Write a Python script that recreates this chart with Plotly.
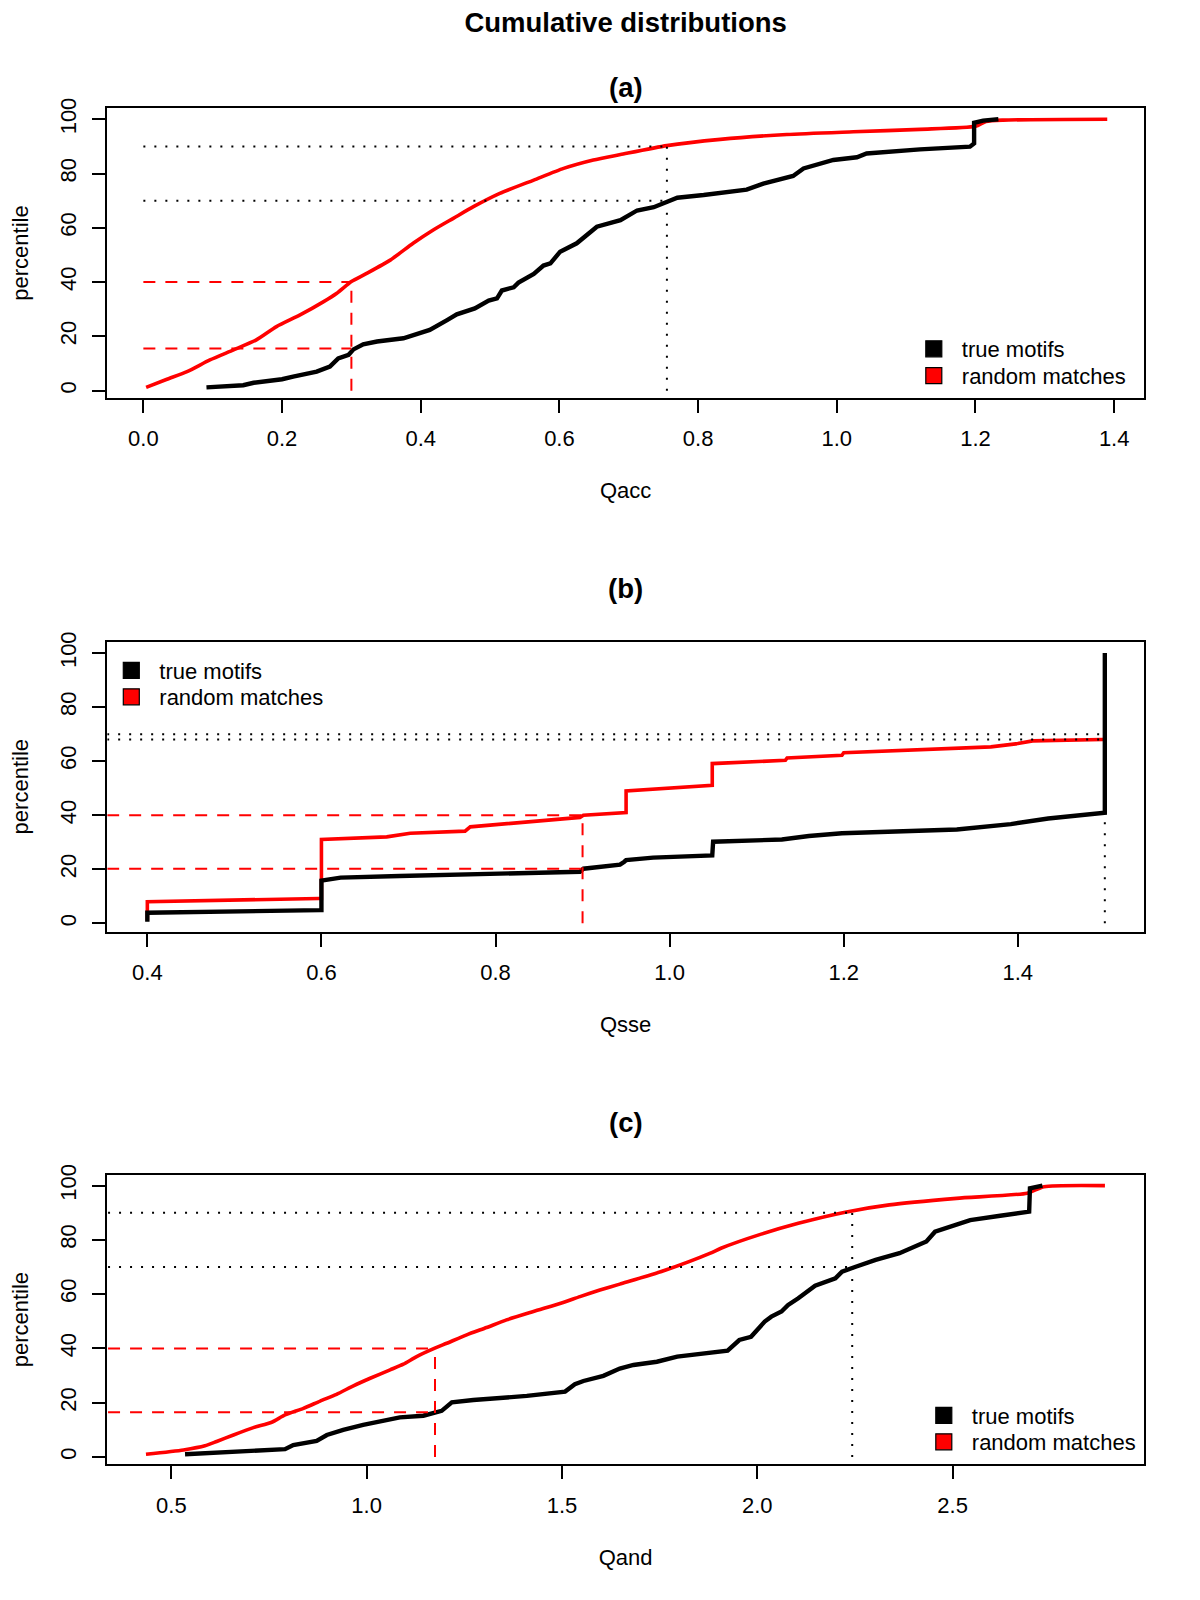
import plotly.graph_objects as go

# ---------------- data ----------------
# Panel (a): Qacc
A_RAND_X = [0.004, 0.034, 0.063, 0.096, 0.130, 0.163, 0.192, 0.226, 0.260, 0.279, 0.300, 0.322, 0.356, 0.389,
            0.418, 0.447, 0.476, 0.514, 0.563, 0.606, 0.649, 0.688, 0.755, 0.832, 0.928, 1.024, 1.120, 1.200,
            1.215, 1.240, 1.390]
A_RAND_Y = [1.2, 4.2, 7.0, 11.3, 15.0, 18.7, 23.6, 27.9, 32.8, 35.9, 40.2, 43.2, 48.1, 54.3,
            59.2, 63.5, 67.8, 72.7, 77.6, 81.9, 85.0, 87.0, 90.3, 92.6, 94.4, 95.4, 96.3, 97.4,
            99.2, 99.7, 100.0]
A_TRUE_X = [0.091, 0.144, 0.159, 0.200, 0.216, 0.250, 0.269, 0.281, 0.296, 0.303, 0.317, 0.337, 0.375, 0.413,
            0.438, 0.452, 0.478, 0.498, 0.510, 0.517, 0.534, 0.541, 0.563, 0.577, 0.587, 0.601, 0.625, 0.654,
            0.688, 0.712, 0.736, 0.755, 0.770, 0.808, 0.870, 0.894, 0.937, 0.952, 0.995, 1.029, 1.043, 1.120,
            1.192, 1.198, 1.198, 1.211, 1.233]
A_TRUE_Y = [1.2, 2.0, 2.9, 4.2, 5.2, 7.0, 8.9, 11.9, 13.2, 15.2, 17.1, 18.1, 19.3, 22.4,
            26.0, 28.1, 30.3, 33.2, 34.0, 36.9, 38.1, 39.8, 43.0, 46.1, 46.9, 51.2, 54.3, 60.4,
            62.8, 66.4, 67.6, 69.6, 71.1, 72.1, 74.1, 76.3, 79.1, 81.9, 85.0, 86.0, 87.4, 88.9,
            89.9, 91.1, 98.7, 99.5, 100.0]
A_DOT_Q, A_DOT_LEVELS = 0.755, [90, 70]
A_DASH_Q, A_DASH_LEVELS = 0.300, [40, 15.5]

# Panel (b): Qsse
B_RAND_X = [0.400, 0.400, 0.597, 0.600, 0.600, 0.675, 0.702, 0.765, 0.771, 0.824, 0.844, 0.897, 0.901, 0.943,
            0.950, 0.950, 1.049, 1.049, 1.133, 1.135, 1.198, 1.200, 1.369, 1.400, 1.417, 1.497, 1.500]
B_RAND_Y = [1.0, 8.0, 9.2, 9.2, 31.0, 32.0, 33.3, 34.1, 35.7, 37.2, 37.9, 39.2, 40.0, 40.8,
            41.0, 49.0, 51.1, 59.1, 60.3, 61.2, 62.2, 63.1, 65.3, 66.5, 67.5, 68.0, 68.0]
B_TRUE_X = [0.400, 0.400, 0.599, 0.600, 0.600, 0.622, 0.690, 0.767, 0.897, 0.901, 0.943, 0.948, 0.950, 0.981,
            1.049, 1.050, 1.129, 1.160, 1.198, 1.330, 1.392, 1.435, 1.497, 1.500, 1.500]
B_TRUE_Y = [0.6, 3.9, 4.9, 4.9, 15.8, 16.9, 17.5, 18.1, 19.1, 20.2, 21.7, 22.8, 23.4, 24.3,
            25.1, 30.2, 31.0, 32.3, 33.3, 34.7, 36.7, 38.8, 40.6, 40.9, 100.0]
B_DOT_Q, B_DOT_LEVELS = 1.500, [70, 68]
B_DASH_Q, B_DASH_LEVELS = 0.900, [40, 20.2]

# Panel (c): Qand
C_RAND_X = [0.435, 0.531, 0.586, 0.616, 0.659, 0.710, 0.757, 0.791, 0.838, 0.881, 0.923, 0.966, 1.009, 1.060,
            1.094, 1.128, 1.173, 1.205, 1.256, 1.307, 1.358, 1.427, 1.503, 1.546, 1.597, 1.648, 1.760, 1.880,
            1.907, 2.010, 2.105, 2.225, 2.338, 2.510, 2.691, 2.734, 2.890]
C_RAND_Y = [1.0, 2.6, 4.1, 5.7, 8.1, 10.8, 12.8, 15.5, 17.9, 20.6, 23.1, 26.2, 29.0, 32.1,
            34.2, 37.0, 40.0, 41.9, 45.0, 47.7, 50.5, 53.6, 56.9, 59.1, 61.5, 63.7, 68.6, 75.1,
            76.9, 82.1, 86.1, 90.2, 92.9, 95.3, 97.2, 99.6, 100.0]
C_TRUE_X = [0.535, 0.791, 0.812, 0.872, 0.898, 0.940, 0.991, 1.026, 1.043, 1.085, 1.145, 1.171, 1.192, 1.218,
            1.273, 1.410, 1.508, 1.533, 1.555, 1.606, 1.648, 1.683, 1.743, 1.795, 1.916, 1.924, 1.954, 1.984,
            2.019, 2.036, 2.062, 2.079, 2.105, 2.148, 2.200, 2.217, 2.252, 2.303, 2.364, 2.398, 2.433, 2.455,
            2.493, 2.545, 2.622, 2.691, 2.696, 2.698, 2.730]
C_TRUE_Y = [1.0, 2.9, 4.4, 5.9, 8.1, 10.0, 11.8, 12.8, 13.6, 14.6, 15.2, 16.1, 17.0, 20.1,
            21.0, 22.5, 24.1, 26.8, 28.0, 29.9, 32.6, 33.9, 35.1, 37.0, 38.8, 39.2, 43.1, 44.3,
            49.9, 51.7, 53.6, 56.0, 58.5, 63.1, 65.8, 68.3, 70.1, 72.6, 75.1, 77.1, 79.4, 83.0,
            84.9, 87.3, 88.9, 90.0, 90.4, 99.0, 100.0]
C_DOT_Q, C_DOT_LEVELS = 2.243, [90, 70]
C_DASH_Q, C_DASH_LEVELS = 1.175, [40, 16.5]

# ticks / labels
Y_TICKS = [0, 20, 40, 60, 80, 100]
A_XTICKS = [0.0, 0.2, 0.4, 0.6, 0.8, 1.0, 1.2, 1.4]
B_XTICKS = [0.4, 0.6, 0.8, 1.0, 1.2, 1.4]
C_XTICKS = [0.5, 1.0, 1.5, 2.0, 2.5]
A_XLABELS = ["0.0", "0.2", "0.4", "0.6", "0.8", "1.0", "1.2", "1.4"]
B_XLABELS = ["0.4", "0.6", "0.8", "1.0", "1.2", "1.4"]
C_XLABELS = ["0.5", "1.0", "1.5", "2.0", "2.5"]
X_TITLES = ["Qacc", "Qsse", "Qand"]
PANEL_TITLES = ["(a)", "(b)", "(c)"]
SERIES_NAMES = ["true motifs", "random matches"]
MAIN_TITLE = "Cumulative distributions"

# ---------------- layout geometry (pixels of the 1200x1600 page) ----------------
W, H = 1184, 1584   # page has the default 8px body margin
OFF = 8


def px(xp):
    return (xp - OFF) / W


def py(yp):
    return 1 - (yp - OFF) / H


FONT = "Liberation Sans, Arial, Helvetica, sans-serif"
RED = "#ff0000"
BLACK = "#000000"

panels = [
    dict(rx=A_RAND_X, ry=A_RAND_Y, tx=A_TRUE_X, ty=A_TRUE_Y, dq=A_DOT_Q, dl=A_DOT_LEVELS,
         sq=A_DASH_Q, sl=A_DASH_LEVELS, xt=A_XTICKS, xl=A_XLABELS, smooth=True,
         xr=[-0.052, 1.443], yr=[-2.6, 104.05], top=108.3, bot=397.7, title_y=87.8,
         leg_x=905.8, leg_y=[349.0, 375.8]),
    dict(rx=B_RAND_X, ry=B_RAND_Y, tx=B_TRUE_X, ty=B_TRUE_Y, dq=B_DOT_Q, dl=B_DOT_LEVELS,
         sq=B_DASH_Q, sl=B_DASH_LEVELS, xt=B_XTICKS, xl=B_XLABELS, smooth=False,
         xr=[0.354, 1.545], yr=[-3.1, 104.2], top=641.7, bot=931.7, title_y=588.8,
         leg_x=103.3, leg_y=[670.5, 697.0]),
    dict(rx=C_RAND_X, ry=C_RAND_Y, tx=C_TRUE_X, ty=C_TRUE_Y, dq=C_DOT_Q, dl=C_DOT_LEVELS,
         sq=C_DASH_Q, sl=C_DASH_LEVELS, xt=C_XTICKS, xl=C_XLABELS, smooth=True,
         xr=[0.336, 2.990], yr=[-2.7, 103.9], top=1175.0, bot=1464.3, title_y=1122.4,
         leg_x=915.8, leg_y=[1415.6, 1442.0]),
]

LEFT, RIGHT = 107.3, 1144.0
XDOM = [px(LEFT), px(RIGHT)]
XC = (XDOM[0] + XDOM[1]) / 2

fig = go.Figure()
layout = dict(
    width=W, height=H,
    margin=dict(l=0, r=0, t=0, b=0, pad=0, autoexpand=False),
    paper_bgcolor="white", plot_bgcolor="white",
    font=dict(family=FONT, size=22, color="black"),
    showlegend=True,
    title=dict(text="<b>%s</b>" % MAIN_TITLE, x=XC, xanchor="center",
               y=py(22.4), yanchor="middle", yref="paper", automargin=False,
               font=dict(family=FONT, size=27.5, color="black")),
    annotations=[],
)

leg_count = 0
for i, p in enumerate(panels):
    n = "" if i == 0 else str(i + 1)
    xa, ya = "x" + n, "y" + n

    red_line = dict(color=RED, width=3.6)
    if p["smooth"]:
        red_line.update(shape="spline", smoothing=0.6)
    # random matches (drawn first), then true motifs
    fig.add_trace(go.Scatter(x=p["rx"], y=p["ry"], mode="lines", xaxis=xa, yaxis=ya,
                             line=red_line, showlegend=False, hoverinfo="skip"))
    fig.add_trace(go.Scatter(x=p["tx"], y=p["ty"], mode="lines", xaxis=xa, yaxis=ya,
                             line=dict(color=BLACK, width=4.4), showlegend=False, hoverinfo="skip"))

    # dotted reference lines (black)
    dx, dy = [], []
    for lev in p["dl"]:
        dx += [0, p["dq"], None]
        dy += [lev, lev, None]
    dx += [p["dq"], p["dq"]]
    dy += [0, max(p["dl"])]
    fig.add_trace(go.Scatter(x=dx, y=dy, mode="lines", xaxis=xa, yaxis=ya,
                             line=dict(color=BLACK, width=2, dash="2px,9px"),
                             showlegend=False, hoverinfo="skip"))
    # dashed reference lines (red)
    sx, sy = [], []
    for lev in p["sl"]:
        sx += [0, p["sq"], None]
        sy += [lev, lev, None]
    sx += [p["sq"], p["sq"]]
    sy += [0, max(p["sl"])]
    fig.add_trace(go.Scatter(x=sx, y=sy, mode="lines", xaxis=xa, yaxis=ya,
                             line=dict(color=RED, width=2, dash="12px,10px"),
                             showlegend=False, hoverinfo="skip"))

    # legend entries (filled squares), one small legend per entry
    for name, col, ly in zip(SERIES_NAMES, [BLACK, RED], p["leg_y"]):
        leg_count += 1
        leg = "legend" if leg_count == 1 else "legend%d" % leg_count
        fig.add_trace(go.Scatter(x=[None], y=[None], mode="markers", xaxis=xa, yaxis=ya,
                                 name=name, legend=leg,
                                 marker=dict(symbol="square", size=16, color=col,
                                             line=dict(color=BLACK, width=1.2))))
        layout[leg] = dict(
            x=px(p["leg_x"]), y=py(ly), xanchor="left", yanchor="middle",
            xref="paper", yref="paper", bgcolor="rgba(0,0,0,0)", borderwidth=0,
            font=dict(size=22, family=FONT), itemwidth=46, tracegroupgap=0,
        )

    layout["xaxis" + n] = dict(
        domain=XDOM, anchor=ya, range=p["xr"], tickvals=p["xt"], ticktext=p["xl"],
        ticks="outside", ticklen=13, tickwidth=2, tickcolor="black",
        showline=True, mirror=True, linecolor="black", linewidth=2,
        showgrid=False, zeroline=False, ticklabelstandoff=7, automargin=False,
        tickfont=dict(size=22, family=FONT),
        title=dict(text=X_TITLES[i], font=dict(size=22, family=FONT), standoff=33),
    )
    layout["yaxis" + n] = dict(
        domain=[py(p["bot"]), py(p["top"])], anchor=xa, range=p["yr"], tickvals=Y_TICKS,
        ticks="outside", ticklen=13, tickwidth=2, tickcolor="black", tickangle=-90,
        showline=True, mirror=True, linecolor="black", linewidth=2,
        showgrid=False, zeroline=False, ticklabelstandoff=8, automargin=False,
        tickfont=dict(size=22, family=FONT),
        title=dict(text="percentile", font=dict(size=22, family=FONT), standoff=31),
    )
    layout["annotations"].append(dict(
        text="<b>%s</b>" % PANEL_TITLES[i], x=XC, y=py(p["title_y"]),
        xref="paper", yref="paper", xanchor="center", yanchor="middle",
        showarrow=False, font=dict(size=27.5, family=FONT, color="black")))

fig.update_layout(**layout)
fig.write_html("out.html")
